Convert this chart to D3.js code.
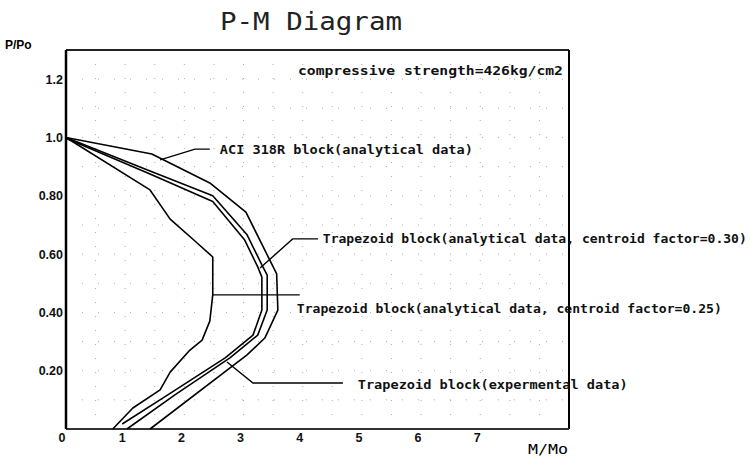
<!DOCTYPE html>
<html>
<head>
<meta charset="utf-8">
<script src="https://cdn.jsdelivr.net/npm/d3@7"></script>
<style>
  body { margin: 0; background: #fff; }
  svg { display: block; }
  .lbl { font-family: "DejaVu Sans Mono", monospace; font-weight: bold; font-size: 13px; fill: #111; }
  .tick { font-family: "Liberation Sans", Arial, sans-serif; font-weight: bold; font-size: 12.5px; fill: #111; }
</style>
</head>
<body>
<div class="graph"></div>
<script>
// chart data (M/Mo, P/Po)
var aciBlock = [[0, 1.0], [1.45, 0.943], [2.43, 0.844], [3.04, 0.744], [3.56, 0.532],
  [3.58, 0.408], [3.36, 0.312], [3.06, 0.254], [1.42, 0]];
var trap30 = [[0, 1.0], [1.42, 0.885], [2.48, 0.80], [3.06, 0.666], [3.31, 0.563], [3.40, 0.528],
  [3.40, 0.408], [3.24, 0.322], [2.77, 0.244], [1.84, 0.117], [1.03, 0]];
var trap25 = [[0, 0.997], [1.42, 0.875], [2.48, 0.78], [3.02, 0.648], [3.24, 0.556], [3.31, 0.521],
  [3.31, 0.408], [3.16, 0.322], [2.69, 0.244], [1.72, 0.117], [0.95, 0.017]];
var experimental = [[0, 1.0], [1.42, 0.82], [1.76, 0.72], [2.15, 0.65], [2.48, 0.59], [2.48, 0.46],
  [2.43, 0.37], [2.30, 0.305], [2.09, 0.27], [1.76, 0.195], [1.59, 0.134], [1.13, 0.072], [0.79, 0]];

var xTicks = [1, 2, 3, 4, 5, 6, 7];
var yTicks = [0.2, 0.4, 0.6, 0.8, 1.0, 1.2];
var yTickLabels = ["0.20", "0.40", "0.60", "0.80", "1.0", "1.2"];
var xGrid = [0.5, 1, 1.5, 2, 2.5, 3, 3.5, 4, 4.5, 5, 5.5, 6, 6.5, 7, 7.5, 8];
var yGrid = [0.1, 0.2, 0.3, 0.4, 0.5, 0.6, 0.7, 0.8, 0.9, 1.0, 1.1, 1.2];

// annotations: label text, anchor point, leader polyline
var notes = [
  {text: "compressive strength=426kg/cm2", at: [3.92, 1.23], len: 265, leader: []},
  {text: "ACI 318R block(analytical data)", at: [2.60, 0.957], len: 253,
    leader: [[1.59, 0.923], [2.18, 0.96], [2.43, 0.96]]},
  {text: "Trapezoid block(analytical data, centroid factor=0.30)", at: [4.34, 0.655], len: 424,
    leader: [[3.28, 0.552], [3.83, 0.652], [4.26, 0.652]]},
  {text: "Trapezoid block(analytical data, centroid factor=0.25)", at: [3.90, 0.415], len: 425,
    leader: [[2.48, 0.46], [3.95, 0.46]]},
  {text: "Trapezoid block(expermental data)", at: [4.93, 0.154], len: 270,
    leader: [[2.72, 0.23], [3.16, 0.158], [4.68, 0.158]]}
];

var W = 749, H = 458;
var margin = {left: 66, right: 180, top: 50, bottom: 29};

var svg = d3.select(".graph").append("svg")
  .attr("width", W).attr("height", H);

var x = d3.scaleLinear().domain([0, 8.5]).range([margin.left, W - margin.right]);
var y = d3.scaleLinear().domain([0, 1.3]).range([H - margin.bottom, margin.top]);

// faint dotted grid
svg.append("g").selectAll("line").data(xGrid).enter().append("line")
  .attr("x1", d => x(d)).attr("x2", d => x(d))
  .attr("y1", y(1.3)).attr("y2", y(0))
  .attr("stroke", "#aaa").attr("stroke-width", 1)
  .attr("stroke-dasharray", "1 13");
svg.append("g").selectAll("line").data(yGrid).enter().append("line")
  .attr("x1", x(0)).attr("x2", x(8.5))
  .attr("y1", d => y(d)).attr("y2", d => y(d))
  .attr("stroke", "#aaa").attr("stroke-width", 1)
  .attr("stroke-dasharray", "1 15");

// frame
svg.append("line").attr("x1", x(0)).attr("x2", x(8.5)).attr("y1", y(1.3)).attr("y2", y(1.3))
  .attr("stroke", "#222").attr("stroke-width", 1.8);
svg.append("line").attr("x1", x(8.5)).attr("x2", x(8.5)).attr("y1", y(1.3)).attr("y2", y(0))
  .attr("stroke", "#000").attr("stroke-width", 2);
svg.append("line").attr("x1", x(0)).attr("x2", x(8.5)).attr("y1", y(0)).attr("y2", y(0))
  .attr("stroke", "#333").attr("stroke-width", 2.2);
svg.append("line").attr("x1", x(0)).attr("x2", x(0)).attr("y1", y(1.3)).attr("y2", y(0))
  .attr("stroke", "#000").attr("stroke-width", 2.5);

// tick labels
svg.append("g").selectAll("text").data(xTicks).enter().append("text")
  .attr("class", "tick").attr("x", d => x(d) - 3).attr("y", y(0) + 13)
  .attr("text-anchor", "middle").text(d => d);
svg.append("g").selectAll("text").data(yTicks).enter().append("text")
  .attr("class", "tick").attr("x", x(0) - 3).attr("y", d => y(d) + 4.5)
  .attr("text-anchor", "end").text((d, i) => yTickLabels[i]);
svg.append("text").attr("class", "tick").attr("x", x(0) - 4).attr("y", y(0) + 13)
  .attr("text-anchor", "middle").text("0");

// axis titles and chart title
svg.append("text").attr("x", 5).attr("y", 49)
  .style("font-family", "Liberation Sans, Arial, sans-serif").style("font-weight", "bold")
  .style("font-size", "12px").text("P/Po");
svg.append("text").attr("x", 528).attr("y", 454)
  .style("font-family", "DejaVu Sans Mono, monospace").style("font-size", "14px")
  .attr("textLength", 40).attr("lengthAdjust", "spacingAndGlyphs").text("M/Mo");
svg.append("text").attr("x", 220).attr("y", 30)
  .style("font-family", "DejaVu Sans Mono, monospace").style("font-size", "25px")
  .style("font-weight", "300").attr("fill", "#222")
  .attr("textLength", 182).attr("lengthAdjust", "spacingAndGlyphs").text("P-M Diagram");

// curves
var line = d3.line().x(d => x(d[0])).y(d => y(d[1]));
svg.append("g").selectAll("path").data([aciBlock, trap30, trap25, experimental]).enter()
  .append("path")
  .attr("d", line)
  .attr("fill", "none").attr("stroke", "#000").attr("stroke-width", 1.6)
  .attr("stroke-linejoin", "round");

// annotations
svg.append("g").selectAll("path").data(notes.filter(n => n.leader.length)).enter()
  .append("path")
  .attr("d", d => line(d.leader))
  .attr("fill", "none").attr("stroke", "#000").attr("stroke-width", 1.4);
svg.append("g").selectAll("text").data(notes).enter().append("text")
  .attr("class", "lbl")
  .attr("x", d => x(d.at[0])).attr("y", d => y(d.at[1]) + 4.5)
  .attr("textLength", d => d.len).attr("lengthAdjust", "spacingAndGlyphs")
  .text(d => d.text);
</script>
</body>
</html>
